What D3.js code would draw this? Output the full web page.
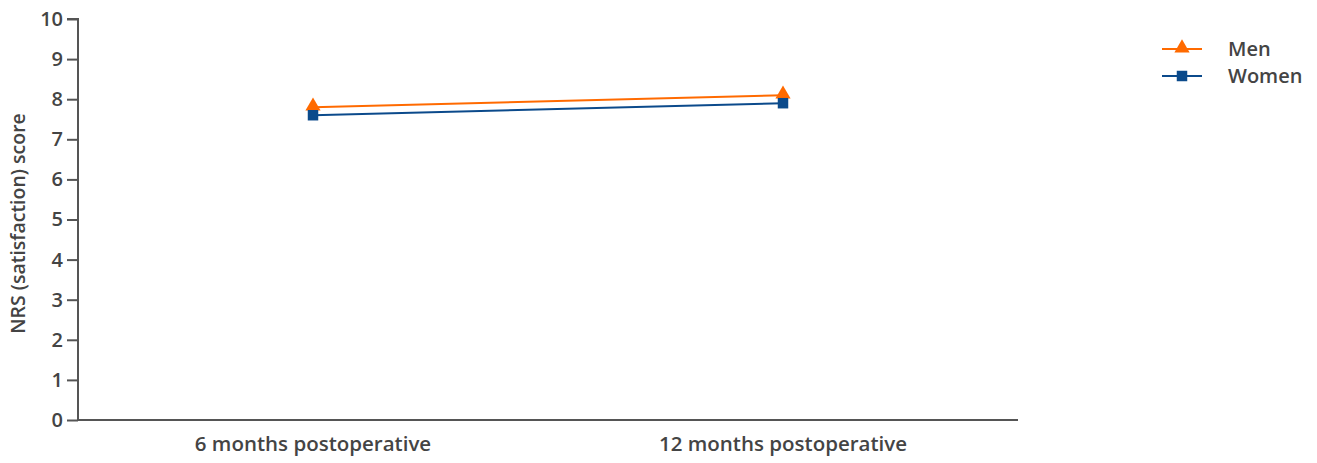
<!DOCTYPE html>
<html><head><meta charset="utf-8">
<script src="https://cdn.jsdelivr.net/npm/d3@7"></script>
<style>body{margin:0;background:#fff}svg{display:block}text{font-family:"Open Sans",sans-serif;fill:#444}</style>
</head><body><svg id="c" width="1317" height="463"></svg>
<script>
const categories = ["6 months postoperative", "12 months postoperative"];
const menValues = [7.8, 8.1];
const womenValues = [7.6, 7.9];
const yTicks = [0,1,2,3,4,5,6,7,8,9,10];
const seriesNames = ["Men", "Women"];
const colors = ["#ff6a00", "#0b4a8b"];

(function(){
const svg = d3.select("#c");
const mLeft = 78, mRight = 1018, mTop = 19, mBottom = 420;
const x = d3.scaleBand().domain(categories).range([mLeft, mRight]).padding(0);
const y = d3.scaleLinear().domain([0, 10]).range([mBottom, mTop]);
const axisColor = "#555";

const yAxis = svg.append("g").attr("transform", `translate(${mLeft},0)`)
  .call(d3.axisLeft(y).tickValues(yTicks).tickSize(11).tickPadding(4).tickFormat(d3.format("d")));
yAxis.select(".domain").attr("stroke", axisColor).attr("stroke-width", 2).attr("d", `M-11,${mTop}H0V${mBottom}`);
yAxis.selectAll(".tick line").attr("stroke", axisColor).attr("stroke-width", 2);
yAxis.selectAll("text").attr("font-size", 20).attr("font-weight", 600).style("font-family", '"Open Sans",sans-serif').attr("fill", "#444");

const xAxis = svg.append("g").attr("transform", `translate(0,${mBottom})`)
  .call(d3.axisBottom(x).tickSize(0).tickPadding(16));
xAxis.select(".domain").attr("stroke", axisColor).attr("stroke-width", 2).attr("d", `M${mLeft},0H${mRight}`);
xAxis.selectAll("text").attr("font-size", 20.5).style("font-family", '"Open Sans",sans-serif').attr("font-weight", 600).attr("fill", "#444");

svg.append("text").attr("transform", `translate(25,${(mTop+mBottom)/2 + 4}) rotate(-90)`)
  .attr("text-anchor", "middle").attr("font-size", 19.5).attr("font-weight", 600).text("NRS (satisfaction) score");

const series = [menValues, womenValues];
const line = d3.line().x((d,i) => x(categories[i]) + x.bandwidth()/2).y(d => y(d));
const tri = d3.symbol().type(d3.symbolTriangle).size(100);
const sq = d3.symbol().type(d3.symbolSquare).size(110);
series.forEach((vals, s) => {
  svg.append("path").attr("d", line(vals)).attr("fill", "none").attr("stroke", colors[s]).attr("stroke-width", 2);
  svg.selectAll(null).data(vals).enter().append("path")
    .attr("d", s === 0 ? tri() : sq())
    .attr("transform", (d,i) => `translate(${x(categories[i]) + x.bandwidth()/2},${y(d) + (s===0 ? -1 : 0)})`)
    .attr("fill", colors[s]);
});

const leg = svg.append("g");
seriesNames.forEach((n, i) => {
  const ly = 49 + i * 27;
  leg.append("line").attr("x1", 1162).attr("x2", 1202).attr("y1", ly).attr("y2", ly).attr("stroke", colors[i]).attr("stroke-width", 2);
  leg.append("path").attr("d", i === 0 ? tri() : sq()).attr("transform", `translate(1182,${ly + (i===0?-1:0)})`).attr("fill", colors[i]);
  leg.append("text").attr("x", 1228).attr("y", ly).attr("dy", "0.35em").attr("font-size", 20).attr("font-weight", 600).text(n);
});
})();
</script></body></html>
